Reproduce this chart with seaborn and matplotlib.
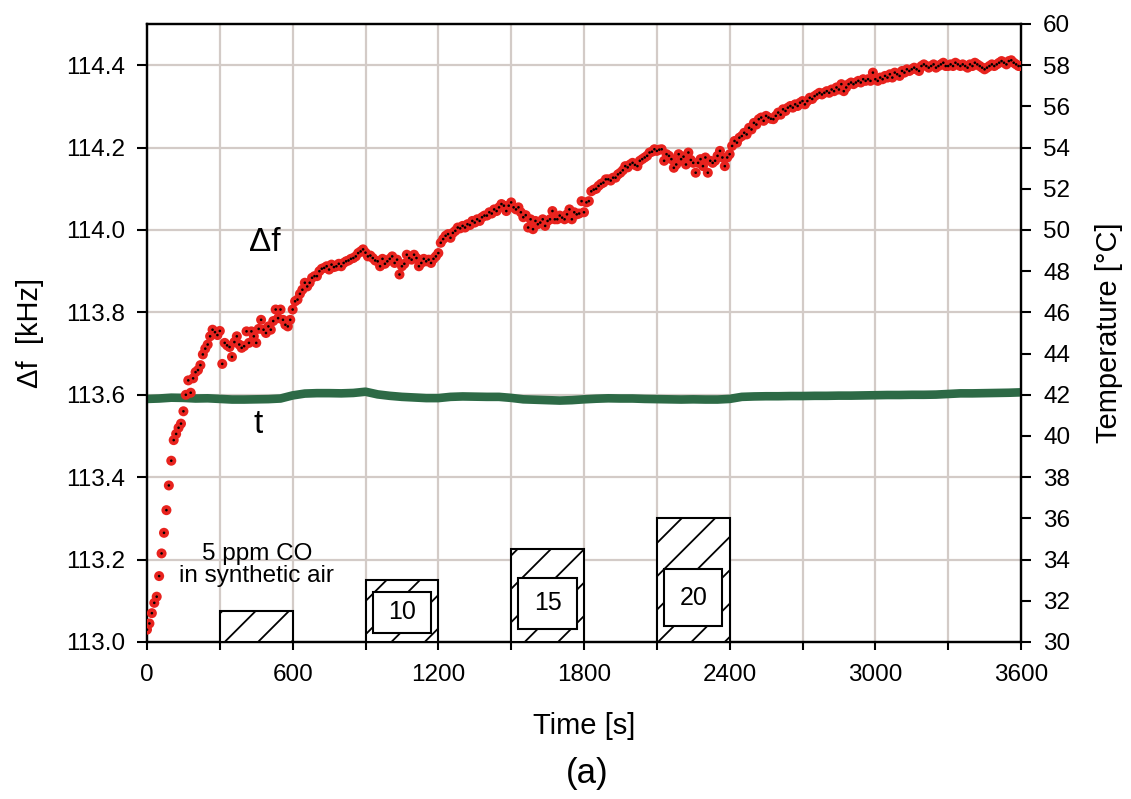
import numpy as np
import pandas as pd
import seaborn as sns
import matplotlib.pyplot as plt
from matplotlib.patches import Rectangle

# ---------------- data ----------------
time_step = 10  # s
df_khz = [
    113.030, 113.045, 113.070, 113.095, 113.110, 113.160, 113.215, 113.265, 113.320, 113.380,
    113.440, 113.490, 113.505, 113.520, 113.530, 113.560, 113.600, 113.635, 113.605, 113.640,
    113.655, 113.660, 113.672, 113.698, 113.712, 113.722, 113.742, 113.758, 113.752, 113.745,
    113.755, 113.675, 113.726, 113.720, 113.716, 113.692, 113.728, 113.742, 113.722, 113.714,
    113.718, 113.754, 113.726, 113.754, 113.742, 113.726, 113.760, 113.782, 113.758, 113.750,
    113.766, 113.758, 113.779, 113.807, 113.786, 113.807, 113.782, 113.770, 113.766, 113.782,
    113.807, 113.827, 113.831, 113.845, 113.855, 113.872, 113.863, 113.872, 113.884, 113.888,
    113.888, 113.900, 113.906, 113.908, 113.912, 113.904, 113.916, 113.910, 113.912, 113.918,
    113.912, 113.920, 113.924, 113.926, 113.930, 113.932, 113.936, 113.944, 113.948, 113.953,
    113.945, 113.936, 113.938, 113.932, 113.926, 113.924, 113.912, 113.930, 113.918, 113.924,
    113.930, 113.936, 113.920, 113.928, 113.892, 113.912, 113.918, 113.940, 113.932, 113.928,
    113.940, 113.932, 113.912, 113.920, 113.930, 113.924, 113.928, 113.920, 113.930, 113.936,
    113.944, 113.969, 113.978, 113.986, 113.990, 113.981, 113.993, 113.998, 114.006, 114.004,
    114.010, 114.006, 114.014, 114.012, 114.022, 114.018, 114.026, 114.022, 114.031, 114.035,
    114.035, 114.043, 114.040, 114.050, 114.046, 114.055, 114.063, 114.059, 114.046, 114.059,
    114.067, 114.055, 114.050, 114.055, 114.043, 114.031, 114.036, 114.006, 114.026, 114.002,
    114.022, 114.014, 114.018, 114.026, 114.010, 114.022, 114.026, 114.046, 114.026, 114.026,
    114.035, 114.030, 114.026, 114.038, 114.050, 114.026, 114.043, 114.038, 114.040, 114.070,
    114.043, 114.067, 114.070, 114.094, 114.098, 114.100, 114.107, 114.112, 114.115, 114.123,
    114.123, 114.120, 114.127, 114.127, 114.135, 114.139, 114.145, 114.155, 114.152, 114.159,
    114.163, 114.158, 114.155, 114.168, 114.172, 114.176, 114.180, 114.188, 114.190, 114.196,
    114.192, 114.195, 114.196, 114.168, 114.184, 114.180, 114.172, 114.151, 114.159, 114.184,
    114.172, 114.178, 114.159, 114.188, 114.170, 114.163, 114.139, 114.163, 114.172, 114.155,
    114.176, 114.139, 114.168, 114.163, 114.168, 114.180, 114.192, 114.176, 114.155, 114.176,
    114.184, 114.204, 114.216, 114.212, 114.224, 114.228, 114.236, 114.232, 114.248, 114.244,
    114.260, 114.256, 114.269, 114.273, 114.265, 114.277, 114.273, 114.270, 114.269, 114.277,
    114.285, 114.280, 114.293, 114.289, 114.297, 114.301, 114.297, 114.305, 114.301, 114.309,
    114.313, 114.305, 114.313, 114.321, 114.318, 114.325, 114.329, 114.333, 114.329, 114.333,
    114.337, 114.333, 114.341, 114.337, 114.346, 114.341, 114.354, 114.337, 114.346, 114.354,
    114.358, 114.354, 114.358, 114.362, 114.358, 114.366, 114.362, 114.366, 114.362, 114.382,
    114.366, 114.362, 114.370, 114.366, 114.374, 114.370, 114.378, 114.370, 114.382, 114.378,
    114.374, 114.386, 114.382, 114.390, 114.386, 114.390, 114.394, 114.390, 114.386, 114.398,
    114.402, 114.398, 114.394, 114.398, 114.402, 114.394, 114.398, 114.402, 114.406, 114.398,
    114.398, 114.402, 114.398, 114.406, 114.402, 114.398, 114.402, 114.398, 114.394, 114.402,
    114.398, 114.406, 114.402, 114.398, 114.394, 114.390, 114.394, 114.398, 114.402, 114.398,
    114.402, 114.406, 114.410, 114.406, 114.402, 114.410, 114.412, 114.406, 114.402, 114.398,
    114.398,
]
df_time = [i * time_step for i in range(len(df_khz))]

temp_time = list(range(0, 3601, 50))
temp_c = [
    41.80, 41.82, 41.86, 41.85, 41.82, 41.83, 41.80, 41.77, 41.77, 41.78,
    41.79, 41.82, 41.97, 42.06, 42.08, 42.08, 42.07, 42.09, 42.15, 42.02,
    41.95, 41.90, 41.87, 41.84, 41.84, 41.90, 41.92, 41.91, 41.90, 41.90,
    41.85, 41.78, 41.76, 41.74, 41.72, 41.74, 41.78, 41.81, 41.83, 41.82,
    41.82, 41.80, 41.79, 41.78, 41.77, 41.78, 41.77, 41.77, 41.80, 41.90,
    41.92, 41.93, 41.93, 41.94, 41.94, 41.95, 41.95, 41.96, 41.96, 41.97,
    41.98, 41.99, 41.99, 42.00, 42.00, 42.01, 42.04, 42.07, 42.07, 42.08,
    42.09, 42.10, 42.12,
]

co_start = [300, 900, 1500, 2100]   # s
co_ppm = [5, 10, 15, 20]
co_labels = ["", "10", "15", "20"]
pulse_len = 300                      # s

x_ticks = list(range(0, 3601, 300))
x_ticklabels = [str(v) if v % 600 == 0 else "" for v in x_ticks]
y_ticks = [113.0, 113.2, 113.4, 113.6, 113.8, 114.0, 114.2, 114.4]
y2_ticks = list(range(30, 61, 2))

# ---------------- style ----------------
sns.set_theme(style="white")
plt.rcParams["font.family"] = ["Liberation Sans", "DejaVu Sans"]
plt.rcParams["hatch.linewidth"] = 1.3
plt.rcParams["text.color"] = "black"
plt.rcParams["axes.labelcolor"] = "black"
plt.rcParams["xtick.color"] = "black"
plt.rcParams["ytick.color"] = "black"

RED = "#e8231e"
GREEN = "#2d6a46"
GRID = "#d3cbc7"

fig = plt.figure(figsize=(11.31, 7.99), dpi=100)
ax = fig.add_axes([147 / 1131, 1 - 642 / 799, (1021 - 147) / 1131, (642 - 24) / 799])
ax2 = ax.twinx()
ax.set_zorder(2)
ax2.set_zorder(1)
ax.patch.set_visible(False)

ax.set_xlim(0, 3600)
ax.set_ylim(113.0, 114.5)
ax2.set_ylim(30, 60)

# grid (drawn on the lower axes so the temperature band covers it)
for xv in x_ticks[1:-1]:
    ax2.axvline(xv, color=GRID, lw=1.6, zorder=0)
for yv in range(34, 59, 4):
    ax2.axhline(yv, color=GRID, lw=1.6, zorder=0)

# temperature
temp_df = pd.DataFrame({"time": temp_time, "temp": temp_c})
sns.lineplot(data=temp_df, x="time", y="temp", ax=ax2, color=GREEN,
             linewidth=6.2, zorder=3)

# CO pulses
bar_h = [p * 0.015 for p in co_ppm]  # schematic height of the pulse marks
ax.bar(co_start, bar_h, width=pulse_len, bottom=113.0, align="edge",
       facecolor="white", edgecolor="black", hatch="/", linewidth=1.5, zorder=3)
box_bottom = [None, 113.022, 113.032, 113.039]
box_height = [None, 0.100, 0.124, 0.138]
for xs, lab, bb, bh in zip(co_start, co_labels, box_bottom, box_height):
    if not lab:
        continue
    ax.add_patch(Rectangle((xs + 30, bb), 240, bh, facecolor="white",
                           edgecolor="black", linewidth=1.5, zorder=4))
    ax.text(xs + 150, bb + bh / 2, lab, ha="center", va="center",
            fontsize=18, zorder=5)

# delta f points
f_df = pd.DataFrame({"time": df_time, "df": df_khz})
sns.scatterplot(data=f_df, x="time", y="df", ax=ax, color=RED, s=52,
                edgecolor="none", linewidth=0, zorder=6)
sns.scatterplot(data=f_df, x="time", y="df", ax=ax, color="black", s=3.5,
                edgecolor="none", linewidth=0, zorder=7)

# annotations
ax.text(486, 113.970, "Δf", fontsize=24, ha="center", va="center")
ax.text(457, 113.527, "t", fontsize=24, ha="center", va="center")
ax.text(452, 113.187, "5 ppm CO\nin synthetic air", fontsize=17.5,
        ha="center", va="center", linespacing=1.0, zorder=5)

# axes, ticks
ax.set_xticks(x_ticks)
ax.set_xticklabels(x_ticklabels)
ax.set_yticks(y_ticks)
ax.set_yticklabels([f"{v:.1f}" for v in y_ticks])
ax2.set_yticks(y2_ticks)
ax2.set_yticklabels([str(v) for v in y2_ticks])

ax.tick_params(axis="x", direction="out", length=6, width=1.5, pad=10,
               labelsize=17.5, colors="black", bottom=True)
ax.tick_params(axis="y", direction="out", length=7, width=1.5, pad=9,
               labelsize=17.5, left=True)
ax2.tick_params(axis="y", direction="out", length=7, width=1.5, pad=9,
                labelsize=17.5, right=True)

for a in (ax, ax2):
    for sp in a.spines.values():
        sp.set_visible(True)
        sp.set_color("black")
        sp.set_linewidth(1.6)

ax.set_xlabel("Time [s]", fontsize=21)
ax.xaxis.set_label_coords(0.5, -0.113)
ax.set_ylabel("Δf  [kHz]", fontsize=21)
ax.yaxis.set_label_coords(-0.118, 0.5)
ax2.set_ylabel("Temperature [°C]", fontsize=21)
ax2.yaxis.set_label_coords(1.085, 0.5)

fig.text(587 / 1131, 1 - 773 / 799, "(a)", fontsize=25, ha="center", va="center")

fig.savefig("out.png", dpi=100, facecolor="white")
